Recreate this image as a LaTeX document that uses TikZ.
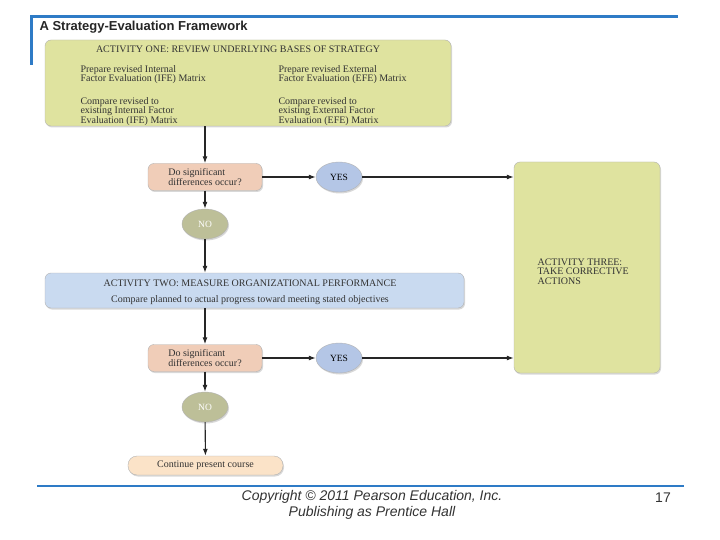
\documentclass[tikz,border=0pt]{standalone}
\usepackage{fontspec}
\setmainfont{Liberation Serif}
\setsansfont{Liberation Sans}
\usetikzlibrary{shapes.geometric,arrows.meta,shadows}
\definecolor{olv}{HTML}{DFE39F}
\definecolor{pch}{HTML}{F0CDB8}
\definecolor{ybl}{HTML}{B4C6E6}
\definecolor{nog}{HTML}{BDBF98}
\definecolor{a2b}{HTML}{C9DAF0}
\definecolor{cnt}{HTML}{FBE3C8}
\definecolor{frame}{HTML}{2E7BC6}
\begin{document}
\begin{tikzpicture}[x=1pt,y=-1pt,
  box/.style={draw=gray!60,rounded corners=6pt,drop shadow={opacity=0.3,shadow xshift=1pt,shadow yshift=-1.5pt},inner sep=0pt},
  ell/.style={ellipse,draw=gray!60,minimum width=46pt,minimum height=30pt,inner sep=0pt,font=\fontsize{9.5}{10}\selectfont,drop shadow={opacity=0.3,shadow xshift=1pt,shadow yshift=-1.5pt}},
  txt/.style={font=\fontsize{10}{9.5}\selectfont,align=left,text=black!80},
  arr/.style={-{Latex[length=7pt,width=5pt]},line width=1.1pt,black!85}]
\useasboundingbox[fill=white] (0,0) rectangle (720,540);
\draw[frame,line width=3pt] (30,17) -- (678,17);
\draw[frame,line width=3pt] (31,17) -- (31,65);
\node[anchor=west,font=\sffamily\bfseries\fontsize{13}{14}\selectfont,text=black!85] (title) at (36,27) {A Strategy-Evaluation Framework};
% Activity one
\node[box,fill=olv,minimum width=406pt,minimum height=86pt] (a1) at (248,83) {};
\node[txt,anchor=center] (a1t) at (238,49) {ACTIVITY ONE: REVIEW UNDERLYING BASES OF STRATEGY};
\node[txt,anchor=north west] (a1a) at (77,62) {Prepare revised Internal\\Factor Evaluation (IFE) Matrix};
\node[txt,anchor=north west] (a1b) at (275,62) {Prepare revised External\\Factor Evaluation (EFE) Matrix};
\node[txt,anchor=north west] (a1c) at (77,94) {Compare revised to\\existing Internal Factor\\Evaluation (IFE) Matrix};
\node[txt,anchor=north west] (a1d) at (275,94) {Compare revised to\\existing External Factor\\Evaluation (EFE) Matrix};
% Decision 1
\node[box,fill=pch,minimum width=114pt,minimum height=27pt,txt] (d1) at (205,177) {Do significant\\differences occur?};
\node[ell,fill=ybl] (y1) at (339,177) {YES};
\node[ell,fill=nog,text=white] (n1) at (205,224) {NO};
% Activity two
\node[box,fill=a2b,minimum width=419pt,minimum height=35pt] (a2) at (254.5,290.5) {};
\node[txt] (a2t) at (250,283) {ACTIVITY TWO: MEASURE ORGANIZATIONAL PERFORMANCE};
\node[txt] (a2s) at (250,300) {Compare planned to actual progress toward meeting stated objectives};
% Decision 2
\node[box,fill=pch,minimum width=114pt,minimum height=27pt,txt] (d2) at (205,358) {Do significant\\differences occur?};
\node[ell,fill=ybl] (y2) at (339,358) {YES};
\node[ell,fill=nog,text=white] (n2) at (205,407) {NO};
\node[box,fill=cnt,minimum width=155pt,minimum height=19pt,txt,rounded corners=9pt] (c) at (205.5,465.5) {Continue present course};
% Activity three
\node[box,fill=olv,minimum width=146pt,minimum height=211pt] (a3) at (587,267.5) {};
\node[txt,anchor=north west] (a3t) at (534,255) {ACTIVITY THREE:\\TAKE CORRECTIVE\\ACTIONS};
% connectors
\draw[arr] (a1.south -| d1) -- (d1);
\draw[arr] (d1) -- (y1);
\draw[arr] (y1) -- (y1 -| a3.west);
\draw[arr] (d1) -- (n1);
\draw[arr] (n1) -- (n1 |- a2.north);
\draw[arr] (a2.south -| d2) -- (d2);
\draw[arr] (d2) -- (y2);
\draw[arr] (y2) -- (y2 -| a3.west);
\draw[arr] (d2) -- (n2);
\draw[arr] (n2) -- (c);
% footer
\draw[frame,line width=2pt] (37,486) -- (684,486);
\node[font=\sffamily\itshape\fontsize{14}{16}\selectfont,align=center,text=black!80] (foot) at (372,505) {Copyright © 2011 Pearson Education, Inc.\\Publishing as Prentice Hall};
\node[font=\sffamily\fontsize{14}{14}\selectfont,text=black!80] (pg) at (663,498) {17};
\end{tikzpicture}
\end{document}
